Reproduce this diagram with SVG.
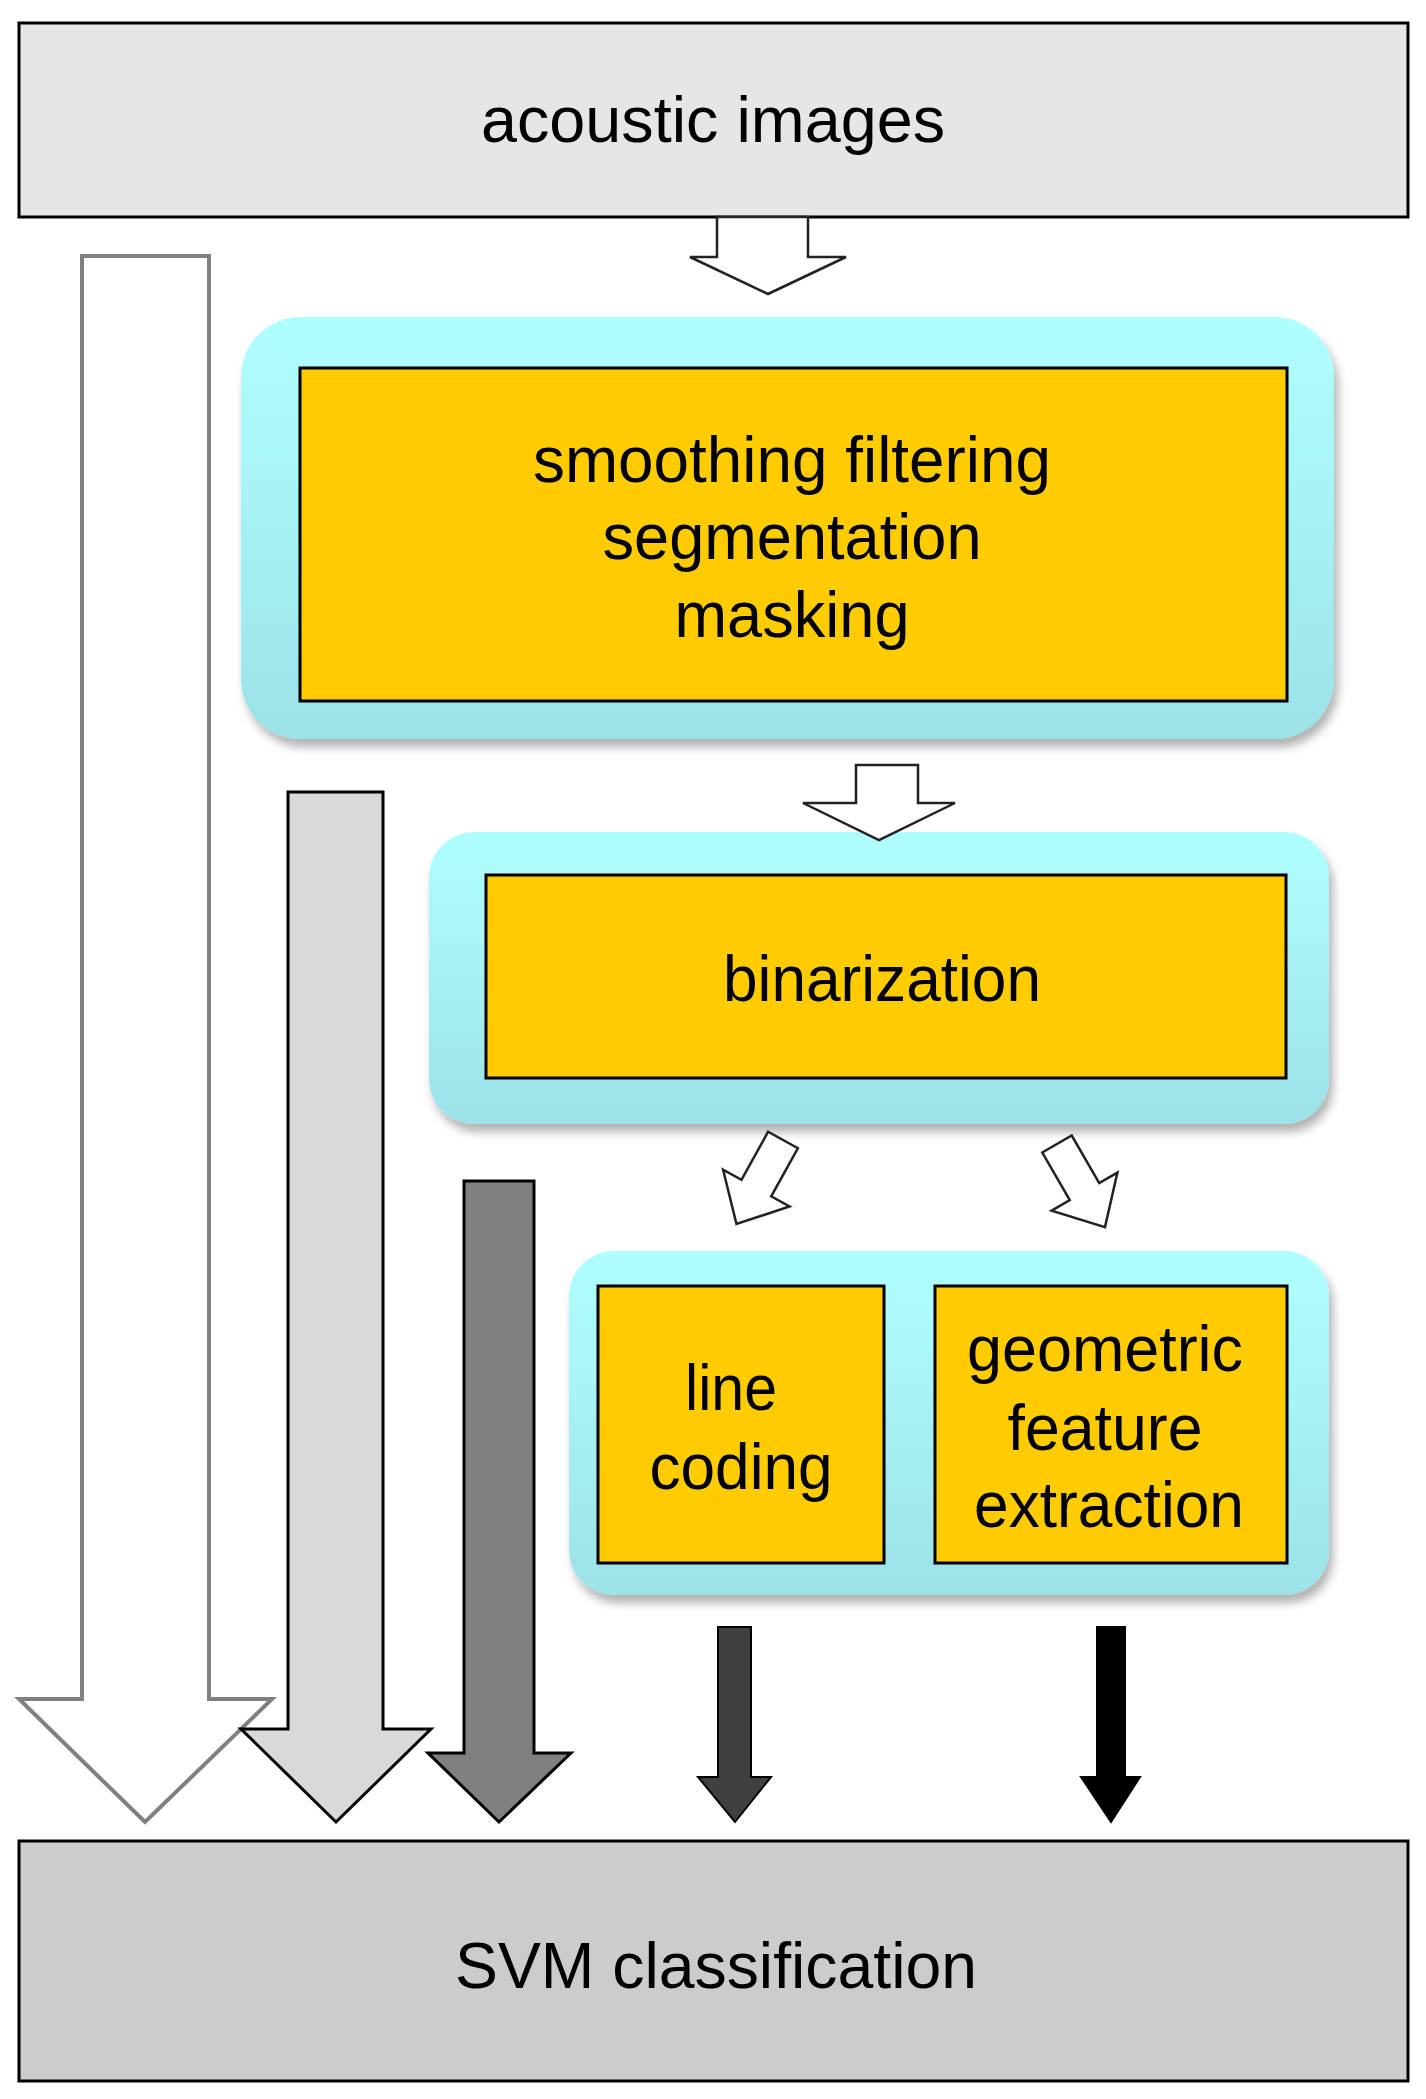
<svg xmlns="http://www.w3.org/2000/svg" width="1426" height="2099" viewBox="0 0 1426 2099">
<style>
text{font-family:"Liberation Sans",Arial,sans-serif;font-size:64px;fill:#000;text-anchor:middle}
.box{stroke:#000;stroke-width:3}
.org{fill:#ffcc00;stroke:#000;stroke-width:3}
.cy{fill:url(#cg);filter:url(#sh)}
.hol{fill:#fff;stroke:#222;stroke-width:2.5}
</style>
<defs>
<linearGradient id="cg" x1="0" y1="0" x2="0" y2="1"><stop offset="0" stop-color="#b0ffff"/><stop offset="1" stop-color="#9ce2e8"/></linearGradient>
<filter id="sh" x="-5%" y="-5%" width="115%" height="120%"><feDropShadow dx="4" dy="8" stdDeviation="5" flood-color="#000" flood-opacity="0.3"/></filter>
</defs>
<g id="n-acoustic"><rect class="box" x="19" y="23" width="1389" height="194" fill="#e6e6e6"/><text x="713" y="142" textLength="464" lengthAdjust="spacingAndGlyphs">acoustic images</text></g>
<g id="n-pre"><rect class="cy" x="241" y="317" width="1093" height="422" rx="60"/><rect class="org" x="300" y="368" width="987" height="333"/>
<text x="792" y="482" textLength="518" lengthAdjust="spacingAndGlyphs">smoothing filtering</text>
<text x="792" y="559" textLength="379" lengthAdjust="spacingAndGlyphs">segmentation</text>
<text x="792" y="637" textLength="235" lengthAdjust="spacingAndGlyphs">masking</text></g>
<g id="n-bin"><rect class="cy" x="429" y="832" width="900" height="292" rx="45"/><rect class="org" x="486" y="875" width="800" height="203"/><text x="882" y="1001" textLength="318" lengthAdjust="spacingAndGlyphs">binarization</text></g>
<g id="n-feat"><rect class="cy" x="569" y="1251" width="760" height="344" rx="45"/>
<g id="n-line"><rect class="org" x="598" y="1286" width="286" height="277"/><text x="731" y="1410" textLength="92" lengthAdjust="spacingAndGlyphs">line</text><text x="741" y="1489" textLength="183" lengthAdjust="spacingAndGlyphs">coding</text></g>
<g id="n-geo"><rect class="org" x="935" y="1286" width="352" height="277"/><text x="1105" y="1371" textLength="276" lengthAdjust="spacingAndGlyphs">geometric</text><text x="1105" y="1450" textLength="195" lengthAdjust="spacingAndGlyphs">feature</text><text x="1109" y="1527" textLength="270" lengthAdjust="spacingAndGlyphs">extraction</text></g></g>
<g id="n-svm"><rect class="box" x="19" y="1841" width="1389" height="240" fill="#cccccc"/><text x="716" y="1988" textLength="522" lengthAdjust="spacingAndGlyphs">SVM  classification</text></g>
<g id="connectors">
<polygon class="hol" points="717,217 808,217 808,257 846,257 768,294 690,257 717,257"/>
<polygon class="hol" points="856,765 918,765 918,803 955,803 879,840 803,803 856,803"/>
<g transform="translate(783,1140) rotate(29)"><polygon class="hol" points="-17,0 17,0 17,55 38,55 0,96 -38,55 -17,55"/></g>
<g transform="translate(1057,1144) rotate(-30)"><polygon class="hol" points="-17,0 17,0 17,55 38,55 0,96 -38,55 -17,55"/></g>
<polygon fill="#fff" stroke="#808080" stroke-width="4" points="82,256 209,256 209,1699 272,1699 145,1822 19,1699 82,1699"/>
<polygon fill="#d9d9d9" stroke="#000" stroke-width="3" points="288,792 383,792 383,1729 431,1729 336,1822 241,1729 288,1729"/>
<polygon fill="#808080" stroke="#000" stroke-width="3" points="464,1181 534,1181 534,1753 571,1753 499,1822 428,1753 464,1753"/>
<polygon fill="#404040" stroke="#000" stroke-width="2" points="718,1627 751,1627 751,1777 771,1777 735,1822 698,1777 718,1777"/>
<polygon fill="#000" stroke="#000" stroke-width="2" points="1097,1627 1125,1627 1125,1777 1140,1777 1111,1822 1081,1777 1097,1777"/>
</g>
</svg>
